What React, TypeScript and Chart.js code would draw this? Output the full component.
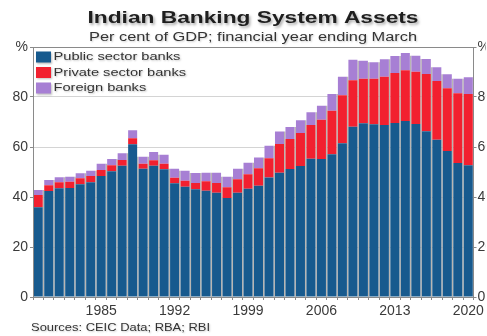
import { useEffect, useRef } from 'react';
import { Chart, registerables } from 'chart.js';

Chart.register(...registerables);

const YEARS = [
  '1979', '1980', '1981', '1982', '1983', '1984', '1985', '1986', '1987', '1988',
  '1989', '1990', '1991', '1992', '1993', '1994', '1995', '1996', '1997', '1998',
  '1999', '2000', '2001', '2002', '2003', '2004', '2005', '2006', '2007', '2008',
  '2009', '2010', '2011', '2012', '2013', '2014', '2015', '2016', '2017', '2018',
  '2019', '2020',
];

const PUBLIC = [
  35.9, 42.4, 43.5, 43.6, 45.1, 45.9, 48.4, 50.3, 52.5, 61.1,
  51.3, 52.5, 51.1, 45.5, 44.1, 43.1, 42.5, 41.7, 39.6, 41.7,
  43.3, 44.5, 47.8, 49.7, 51.2, 52.4, 55.3, 55.2, 57.1, 61.5,
  68.1, 69.5, 69.1, 68.8, 69.6, 70.4, 69.2, 66.3, 62.9, 58.4,
  53.6, 52.7,
];

const PRIVATE = [
  4.9, 2.3, 2.4, 2.5, 2.4, 2.5, 2.4, 2.4, 2.3, 2.4,
  2.0, 2.2, 2.2, 2.2, 2.4, 2.5, 3.8, 3.9, 4.3, 5.4,
  5.8, 7.0, 7.7, 11.5, 12.0, 13.2, 13.5, 15.7, 17.4, 19.2,
  18.6, 17.8, 18.2, 19.3, 20.0, 20.3, 20.9, 22.9, 23.5, 25.1,
  27.9, 28.5,
];

const FOREIGN = [
  2.0, 2.1, 2.0, 2.0, 2.0, 2.1, 2.5, 2.5, 2.7, 3.2,
  2.8, 3.3, 3.6, 3.6, 4.0, 4.0, 3.4, 4.1, 4.2, 4.2,
  4.6, 4.3, 5.0, 5.0, 4.8, 5.1, 5.1, 5.6, 6.7, 7.4,
  8.2, 7.2, 6.6, 7.0, 6.8, 6.9, 6.4, 6.0, 5.5, 5.6,
  5.8, 6.7,
];

const X_TICK_LABELS = ['1985', '1992', '1999', '2006', '2013', '2020'];
const Y_TICKS = [0, 20, 40, 60, 80, 100];
const SERIES_NAMES = ['Public sector banks', 'Private sector banks', 'Foreign banks'];
const SERIES_COLORS = ['#175a8e', '#f2202f', '#a77fd4'];

const TITLE = 'Indian Banking System Assets';
const SUBTITLE = 'Per cent of GDP; financial year ending March';
const SOURCES = 'Sources: CEIC Data; RBA; RBI';

const W = 487;
const H = 336;
const BAR_PCT = 0.86;
const FONT = '"Liberation Sans", Arial, Helvetica, sans-serif';

function drawStretched(
  ctx: CanvasRenderingContext2D,
  text: string,
  x: number,
  y: number,
  font: string,
  targetWidth: number,
  align: 'left' | 'center',
) {
  ctx.save();
  ctx.font = font;
  const w = ctx.measureText(text).width;
  const sx = targetWidth / w;
  ctx.translate(x, y);
  ctx.scale(sx, 1);
  ctx.textAlign = align;
  ctx.textBaseline = 'middle';
  ctx.fillText(text, 0, 0);
  ctx.restore();
}

const decorPlugin = {
  id: 'decor',
  beforeDatasetsDraw(chart: any) {
    const { ctx, chartArea, scales } = chart;
    const xs = scales.x;
    const ys = scales.y;
    const n = YEARS.length;
    const pitch = xs.getPixelForValue(1) - xs.getPixelForValue(0);
    const gap = pitch * (1 - BAR_PCT);
    const totals = YEARS.map((_, i) => PUBLIC[i] + PRIVATE[i] + FOREIGN[i]);
    const y0 = ys.getPixelForValue(0);
    ctx.save();
    ctx.fillStyle = '#b9b6b2';
    for (let i = 0; i <= n; i++) {
      const h = i === 0 ? totals[0] : i === n ? totals[n - 1] : Math.min(totals[i - 1], totals[i]);
      const cx = i === n ? xs.getPixelForValue(n - 1) + pitch / 2 : xs.getPixelForValue(i) - pitch / 2;
      let left = cx - gap / 2;
      let right = cx + gap / 2;
      left = Math.max(left, chartArea.left);
      right = Math.min(right, chartArea.right);
      const top = ys.getPixelForValue(h);
      ctx.fillRect(left, top, right - left, y0 - top);
    }
    ctx.restore();
  },
  afterDraw(chart: any) {
    const { ctx, chartArea } = chart;
    ctx.save();
    // plot frame
    ctx.strokeStyle = '#8a8a8a';
    ctx.lineWidth = 1;
    ctx.strokeRect(
      Math.round(chartArea.left) + 0.5,
      Math.round(chartArea.top) + 0.5,
      Math.round(chartArea.right - chartArea.left) - 1,
      Math.round(chartArea.bottom - chartArea.top),
    );

    // title with shadow
    ctx.save();
    ctx.shadowColor = 'rgba(0,0,0,0.35)';
    ctx.shadowBlur = 3;
    ctx.shadowOffsetX = 1.5;
    ctx.shadowOffsetY = 2;
    ctx.fillStyle = '#1e1e1e';
    drawStretched(ctx, TITLE, 253, 18.5, `bold 16.5px ${FONT}`, 331, 'center');
    ctx.restore();

    ctx.save();
    ctx.shadowColor = 'rgba(0,0,0,0.2)';
    ctx.shadowBlur = 2;
    ctx.shadowOffsetX = 1;
    ctx.shadowOffsetY = 1;
    ctx.fillStyle = '#333';
    drawStretched(ctx, SUBTITLE, 253, 37.5, `12.5px ${FONT}`, 328, 'center');
    ctx.restore();

    // legend
    const rowY = [57, 72.5, 88];
    chart.data.datasets.forEach((ds: any, i: number) => {
      ctx.save();
      ctx.shadowColor = 'rgba(0,0,0,0.25)';
      ctx.shadowBlur = 2;
      ctx.shadowOffsetX = 1;
      ctx.shadowOffsetY = 1;
      ctx.fillStyle = ds.backgroundColor;
      ctx.fillRect(36, rowY[i] - 5.5, 15, 11);
      ctx.fillStyle = '#333';
      const label = ds.label as string;
      ctx.font = `11px ${FONT}`;
      const w = ctx.measureText(label).width;
      drawStretched(ctx, label, 53.5, rowY[i], `11px ${FONT}`, w * 1.33, 'left');
      ctx.restore();
    });

    // sources
    ctx.save();
    ctx.shadowColor = 'rgba(0,0,0,0.2)';
    ctx.shadowBlur = 2;
    ctx.shadowOffsetX = 1;
    ctx.shadowOffsetY = 1;
    ctx.fillStyle = '#333';
    drawStretched(ctx, SOURCES, 31, 328.5, `10.5px ${FONT}`, 179, 'left');
    ctx.restore();

    ctx.restore();
  },
};

const yTickCallback = (v: any) => (Number(v) === 100 ? '%' : String(v));

export default function App() {
  const canvasRef = useRef<HTMLCanvasElement | null>(null);

  useEffect(() => {
    const canvas = canvasRef.current;
    if (!canvas) return;
    const chart = new Chart(canvas, {
      type: 'bar',
      data: {
        labels: YEARS,
        datasets: [
          { label: SERIES_NAMES[0], data: PUBLIC, backgroundColor: SERIES_COLORS[0] },
          { label: SERIES_NAMES[1], data: PRIVATE, backgroundColor: SERIES_COLORS[1] },
          { label: SERIES_NAMES[2], data: FOREIGN, backgroundColor: SERIES_COLORS[2] },
        ].map((d) => ({
          ...d,
          stack: 'banks',
          barPercentage: BAR_PCT,
          categoryPercentage: 1,
          borderWidth: 0,
        })),
      },
      options: {
        responsive: false,
        animation: false,
        devicePixelRatio: 1,
        layout: { padding: { top: 47, left: 0, right: 0, bottom: 0 } },
        plugins: {
          legend: { display: false },
          title: { display: false },
          tooltip: { enabled: false },
        },
        scales: {
          x: {
            stacked: true,
            offset: true,
            grid: {
              display: true,
              offset: true,
              drawOnChartArea: false,
              drawTicks: true,
              tickLength: 3,
              color: '#8a8a8a',
            },
            border: { display: true, color: '#8a8a8a' },
            ticks: {
              autoSkip: false,
              maxRotation: 0,
              minRotation: 0,
              padding: 3,
              color: '#3a3a3a',
              font: { family: FONT, size: 14 },
              callback: (_v: any, i: number) =>
                X_TICK_LABELS.includes(YEARS[i]) ? YEARS[i] : '',
            },
            afterFit: (s: any) => {
              s.height = 39;
            },
          },
          y: {
            stacked: true,
            min: Y_TICKS[0],
            max: Y_TICKS[Y_TICKS.length - 1],
            position: 'left',
            afterBuildTicks: (s: any) => {
              s.ticks = Y_TICKS.map((v) => ({ value: v }));
            },
            grid: {
              color: (c: any) =>
                c.tick && (c.tick.value === 0 || c.tick.value === 100) ? 'rgba(0,0,0,0)' : '#d4d4d4',
              tickColor: '#8a8a8a',
              tickLength: 3,
            },
            border: { display: true, color: '#8a8a8a' },
            ticks: {
              padding: 2,
              color: '#3a3a3a',
              font: { family: FONT, size: 14 },
              callback: yTickCallback,
            },
            afterFit: (s: any) => {
              s.width = 33;
            },
          },
          y2: {
            min: Y_TICKS[0],
            max: Y_TICKS[Y_TICKS.length - 1],
            position: 'right',
            afterBuildTicks: (s: any) => {
              s.ticks = Y_TICKS.map((v) => ({ value: v }));
            },
            grid: { drawOnChartArea: false, tickLength: 3, color: '#8a8a8a' },
            border: { display: true, color: '#8a8a8a' },
            ticks: {
              padding: 1,
              color: '#3a3a3a',
              font: { family: FONT, size: 14 },
              callback: yTickCallback,
            },
            afterFit: (s: any) => {
              s.width = 12;
            },
          },
        },
      },
      plugins: [decorPlugin],
    });
    return () => chart.destroy();
  }, []);

  return (
    <div style={{ position: 'fixed', left: 0, top: 0, width: W, height: H, background: '#fff' }}>
      <canvas ref={canvasRef} width={W} height={H} style={{ display: 'block', width: W, height: H }} />
    </div>
  );
}
